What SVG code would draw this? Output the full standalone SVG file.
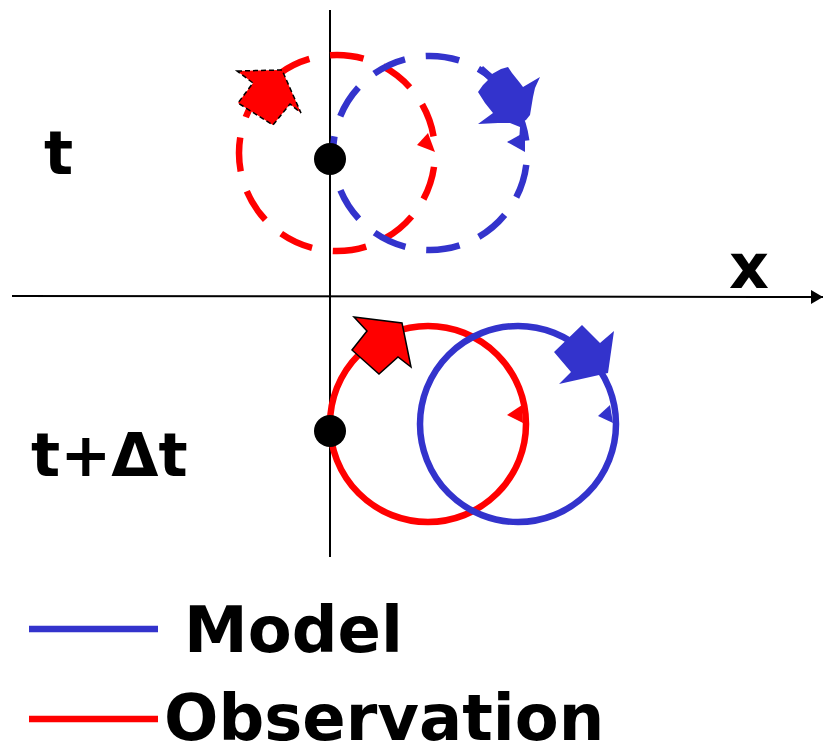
<svg xmlns="http://www.w3.org/2000/svg" width="823" height="747" viewBox="0 0 823 747">
<defs>
<style>
.lbl{font-family:"DejaVu Sans",sans-serif;font-weight:bold;fill:#000}
.red{stroke:#FF0000;fill:none;stroke-width:6.5}
.blue{stroke:#3333CC;fill:none;stroke-width:6.5}
.dash{stroke-dasharray:34 21}
.rf{fill:#FF0000}
.bf{fill:#3333CC}
.axis{stroke:#000;stroke-width:2;fill:none}
</style>
<marker id="ah" markerWidth="12" markerHeight="14" refX="12" refY="7" orient="auto" markerUnits="userSpaceOnUse">
<path d="M0,0 L12,7 L0,14 Z" fill="#000"/>
</marker>
</defs>
<rect width="823" height="747" fill="#fff"/>
<g id="connectors">
<line class="axis" x1="12" y1="296" x2="823" y2="297" marker-end="url(#ah)"/>
<line class="axis" x1="330" y1="10" x2="330" y2="557"/>
</g>
<g id="obs-t">
<circle class="red dash" cx="337" cy="153" r="98" stroke-dashoffset="41"/>
<polygon class="rf" points="417,145 428,133 435,152"/>
<polygon class="rf" points="237,71 282,70 301,113 290,104 273,125 238,103 253,83" stroke="#000" stroke-width="1.5" stroke-dasharray="5 3"/>
</g>
<g id="model-t">
<circle class="blue dash" cx="430" cy="153" r="97" stroke-dashoffset="43"/>
<polygon class="bf" points="507,142 525,132 525,152"/>
<polygon class="bf" points="479,71 483,66 492,74 501,69 508,67 512,73 520,83 523,87 540,77 535,88 533,97 530,115 526,120 522,122 525,142 519,142 520,127 510,123 498,123 478,124 493,113 485,103 478,92 483,85 488,80"/>
</g>
<g id="obs-tdt">
<circle class="red" cx="428" cy="424" r="98"/>
<polygon class="rf" points="507,415 522,405 523,423"/>
<polygon class="rf" points="354,317 402,323 411,367 398,357 379,374 352,350 367,331" stroke="#000" stroke-width="1.5"/>
</g>
<g id="model-tdt">
<circle class="blue" cx="518" cy="424" r="98"/>
<polygon class="bf" points="598,416 610,405 613,423"/>
<polygon class="bf" points="582,325 600,343 614,331 608,373 559,384 571,372 554,352"/>
</g>
<g id="dots">
<circle cx="330" cy="159" r="16" fill="#000"/>
<circle cx="330" cy="431" r="16" fill="#000"/>
</g>
<g id="labels">
<text class="lbl" x="44" y="174" font-size="61">t</text>
<text class="lbl" x="31" y="476" font-size="61">t+Δt</text>
<text class="lbl" x="729" y="288" font-size="62">x</text>
</g>
<g id="legend">
<line class="blue" x1="29" y1="629" x2="158" y2="629"/>
<text class="lbl" x="184" y="652" font-size="64">Model</text>
<line class="red" x1="29" y1="719" x2="158" y2="719"/>
<text class="lbl" x="164" y="740" font-size="64">Observation</text>
</g>
</svg>
